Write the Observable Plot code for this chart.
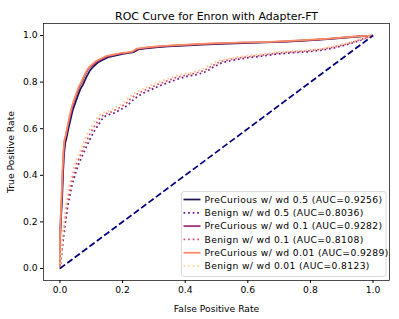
<!DOCTYPE html>
<html><head><meta charset="utf-8">
<script src="https://cdn.jsdelivr.net/npm/d3@7"></script>
<script src="https://cdn.jsdelivr.net/npm/@observablehq/plot@0.6"></script>
<style>body{margin:0;background:#fff}#chart{width:399px;height:319px}</style>
</head><body><div id="chart"></div>
<script>
const title = "ROC Curve for Enron with Adapter-FT";
const xLabel = "False Positive Rate";
const yLabel = "True Positive Rate";
const xTicks = [0, 0.2, 0.4, 0.6, 0.8, 1.0];
const yTicks = [0, 0.2, 0.4, 0.6, 0.8, 1.0];

const seriesNames = [
  "PreCurious w/ wd 0.5 (AUC=0.9256)",
  "Benign w/ wd 0.5 (AUC=0.8036)",
  "PreCurious w/ wd 0.1 (AUC=0.9282)",
  "Benign w/ wd 0.1 (AUC=0.8108)",
  "PreCurious w/ wd 0.01 (AUC=0.9289)",
  "Benign w/ wd 0.01 (AUC=0.8123)"
];
const seriesColors = ["#221150", "#6a1c81", "#992d80", "#e04f67", "#fc8a62", "#fec98d"];
const seriesDotted = [false, true, false, true, false, true];

const pre05_fpr = [0, 0.000, 0.004, 0.007, 0.010, 0.013, 0.017, 0.021, 0.027, 0.034, 0.041, 0.049, 0.057, 0.065, 0.074, 0.084, 0.096, 0.108, 0.121, 0.136, 0.154, 0.176, 0.200, 0.220, 0.236, 0.250, 0.275, 0.305, 0.345, 0.395, 0.455, 0.515, 0.585, 0.655, 0.725, 0.795, 0.855, 0.905, 0.952, 1.0];
const pre05_tpr = [0, 0.11, 0.23, 0.30, 0.41, 0.49, 0.54, 0.56, 0.60, 0.64, 0.68, 0.71, 0.74, 0.77, 0.79, 0.82, 0.85, 0.868, 0.884, 0.895, 0.907, 0.914, 0.921, 0.925, 0.929, 0.940, 0.945, 0.949, 0.953, 0.957, 0.961, 0.964, 0.967, 0.970, 0.974, 0.979, 0.984, 0.990, 0.995, 1.0];

const ben05_fpr = [0, 0.003, 0.007, 0.012, 0.018, 0.024, 0.031, 0.039, 0.048, 0.057, 0.067, 0.077, 0.087, 0.098, 0.110, 0.122, 0.134, 0.146, 0.160, 0.175, 0.190, 0.205, 0.220, 0.235, 0.250, 0.270, 0.295, 0.320, 0.350, 0.380, 0.410, 0.440, 0.468, 0.492, 0.517, 0.552, 0.592, 0.642, 0.692, 0.742, 0.790, 0.838, 0.876, 0.914, 0.948, 0.976, 1.0];
const ben05_tpr = [0, 0.03, 0.08, 0.14, 0.20, 0.26, 0.31, 0.36, 0.40, 0.44, 0.47, 0.50, 0.53, 0.56, 0.59, 0.615, 0.64, 0.655, 0.662, 0.668, 0.68, 0.69, 0.705, 0.725, 0.74, 0.755, 0.77, 0.785, 0.80, 0.815, 0.826, 0.833, 0.846, 0.866, 0.883, 0.894, 0.903, 0.911, 0.92, 0.926, 0.930, 0.937, 0.947, 0.960, 0.974, 0.988, 1.0];

const pre01_fpr = [0, 0.000, 0.003, 0.006, 0.009, 0.012, 0.015, 0.019, 0.025, 0.032, 0.039, 0.046, 0.054, 0.062, 0.070, 0.080, 0.092, 0.104, 0.117, 0.132, 0.150, 0.172, 0.197, 0.217, 0.234, 0.247, 0.272, 0.302, 0.342, 0.392, 0.452, 0.512, 0.582, 0.652, 0.722, 0.792, 0.852, 0.902, 0.951, 1.0];
const pre01_tpr = [0, 0.12, 0.24, 0.31, 0.42, 0.50, 0.55, 0.57, 0.61, 0.65, 0.69, 0.72, 0.75, 0.78, 0.80, 0.83, 0.86, 0.872, 0.887, 0.898, 0.910, 0.916, 0.923, 0.927, 0.931, 0.942, 0.947, 0.951, 0.955, 0.959, 0.963, 0.966, 0.969, 0.971, 0.975, 0.980, 0.985, 0.991, 0.996, 1.0];

const ben01_fpr = [0, 0.002, 0.006, 0.010, 0.016, 0.021, 0.028, 0.035, 0.044, 0.052, 0.062, 0.071, 0.081, 0.091, 0.103, 0.115, 0.127, 0.139, 0.152, 0.167, 0.182, 0.197, 0.212, 0.227, 0.242, 0.262, 0.287, 0.312, 0.342, 0.372, 0.402, 0.432, 0.461, 0.486, 0.511, 0.546, 0.586, 0.636, 0.686, 0.736, 0.785, 0.834, 0.873, 0.912, 0.946, 0.975, 1.0];
const ben01_tpr = [0, 0.035, 0.085, 0.145, 0.205, 0.265, 0.315, 0.365, 0.405, 0.445, 0.475, 0.505, 0.535, 0.565, 0.595, 0.62, 0.645, 0.66, 0.667, 0.673, 0.685, 0.695, 0.71, 0.73, 0.745, 0.76, 0.775, 0.79, 0.805, 0.82, 0.83, 0.838, 0.85, 0.87, 0.887, 0.898, 0.906, 0.914, 0.923, 0.929, 0.933, 0.94, 0.95, 0.962, 0.976, 0.989, 1.0];

const pre001_fpr = [0, 0.000, 0.003, 0.005, 0.008, 0.011, 0.014, 0.018, 0.024, 0.030, 0.037, 0.044, 0.052, 0.060, 0.068, 0.078, 0.090, 0.102, 0.115, 0.130, 0.148, 0.170, 0.195, 0.215, 0.232, 0.245, 0.270, 0.300, 0.340, 0.390, 0.450, 0.510, 0.580, 0.650, 0.720, 0.790, 0.850, 0.900, 0.950, 1.0];
const pre001_tpr = [0, 0.12, 0.24, 0.31, 0.42, 0.50, 0.55, 0.57, 0.61, 0.65, 0.69, 0.72, 0.75, 0.78, 0.80, 0.83, 0.86, 0.875, 0.89, 0.90, 0.912, 0.918, 0.925, 0.928, 0.932, 0.944, 0.948, 0.952, 0.956, 0.960, 0.964, 0.967, 0.970, 0.972, 0.976, 0.981, 0.986, 0.991, 0.996, 1.0];

const ben001_fpr = [0, 0.002, 0.005, 0.009, 0.014, 0.019, 0.025, 0.032, 0.040, 0.048, 0.057, 0.066, 0.075, 0.085, 0.096, 0.108, 0.120, 0.132, 0.145, 0.160, 0.175, 0.190, 0.205, 0.220, 0.235, 0.255, 0.280, 0.305, 0.335, 0.365, 0.395, 0.425, 0.455, 0.480, 0.505, 0.540, 0.580, 0.630, 0.680, 0.730, 0.780, 0.830, 0.870, 0.910, 0.945, 0.975, 1.0];
const ben001_tpr = [0, 0.04, 0.09, 0.15, 0.21, 0.27, 0.32, 0.37, 0.41, 0.45, 0.48, 0.51, 0.54, 0.57, 0.60, 0.625, 0.65, 0.665, 0.672, 0.678, 0.69, 0.70, 0.715, 0.735, 0.75, 0.765, 0.78, 0.795, 0.81, 0.825, 0.835, 0.842, 0.855, 0.875, 0.892, 0.902, 0.91, 0.918, 0.927, 0.932, 0.936, 0.942, 0.952, 0.965, 0.978, 0.99, 1.0];

const chanceX = [0, 1];
const chanceY = [0, 1];

const seriesFpr = [pre05_fpr, ben05_fpr, pre01_fpr, ben01_fpr, pre001_fpr, ben001_fpr];
const seriesTpr = [pre05_tpr, ben05_tpr, pre01_tpr, ben01_tpr, pre001_tpr, ben001_tpr];

const fs = 9.2;
const lw = 1.73;
const curveMarks = seriesNames.map((name, i) => {
  const n = Math.min(seriesFpr[i].length, seriesTpr[i].length);
  const data = d3.range(n).map(j => ({x: seriesFpr[i][j], y: seriesTpr[i][j]}));
  return Plot.line(data, {
    x: "x", y: "y", stroke: seriesColors[i], strokeWidth: lw,
    strokeDasharray: seriesDotted[i] ? "1.73,2.86" : null,
    strokeLinecap: "butt", strokeLinejoin: "round"
  });
});
const chance = chanceX.map((x, i) => ({x, y: chanceY[i]}));

const chart = Plot.plot({
  width: 399, height: 319,
  marginLeft: 43, marginRight: 10, marginTop: 23, marginBottom: 39,
  style: {fontFamily: "DejaVu Sans", fontSize: fs + "px", background: "#fff", color: "#000"},
  x: {domain: [-0.0525, 1.0525]},
  y: {domain: [-0.0515, 1.0515]},
  marks: [
    ...curveMarks,
    Plot.line(chance, {x: "x", y: "y", stroke: "#000080", strokeWidth: lw, strokeDasharray: "6.4,2.8", strokeLinecap: "butt"}),
    Plot.frame({stroke: "#000", strokeWidth: 0.7}),
    Plot.axisX({ticks: xTicks, tickFormat: d => d.toFixed(1), tickSize: 3, tickPadding: 3, stroke: "#000",
      label: xLabel, labelAnchor: "center", labelArrow: "none", labelOffset: 31}),
    Plot.axisY({ticks: yTicks, tickFormat: d => d.toFixed(1), tickSize: 3, tickPadding: 3, stroke: "#000",
      label: yLabel, labelAnchor: "center", labelArrow: "none", labelOffset: 36}),
    Plot.text([title], {text: d => d, frameAnchor: "top", lineAnchor: "bottom", dy: -3.3, fontSize: 10.95, fill: "#000"})
  ]
});
document.getElementById("chart").append(chart);

// Legend box in the lower right of the axes
const svg = d3.select(chart.tagName.toLowerCase() === "svg" ? chart : chart.querySelector("svg"));
const lg = svg.append("g").attr("font-family", "DejaVu Sans").attr("font-size", fs + "px").attr("text-anchor", "start");
lg.append("rect").attr("x", 181.5).attr("y", 191.5).attr("width", 204.5).attr("height", 85)
  .attr("rx", 2.5).attr("fill", "#fff").attr("fill-opacity", 0.8).attr("stroke", "#cccccc").attr("stroke-width", 0.7);
seriesNames.forEach((name, i) => {
  const yy = 199.5 + i * 13.3;
  lg.append("line").attr("x1", 183.5).attr("x2", 200.5).attr("y1", yy).attr("y2", yy)
    .attr("stroke", seriesColors[i]).attr("stroke-width", lw)
    .attr("stroke-dasharray", seriesDotted[i] ? "1.73,2.86" : null);
  lg.append("text").attr("x", 204.5).attr("y", yy).attr("dy", "0.35em").attr("text-anchor", "start")
    .attr("letter-spacing", "0.36px").attr("fill", "#000").text(name);
});
</script></body></html>
